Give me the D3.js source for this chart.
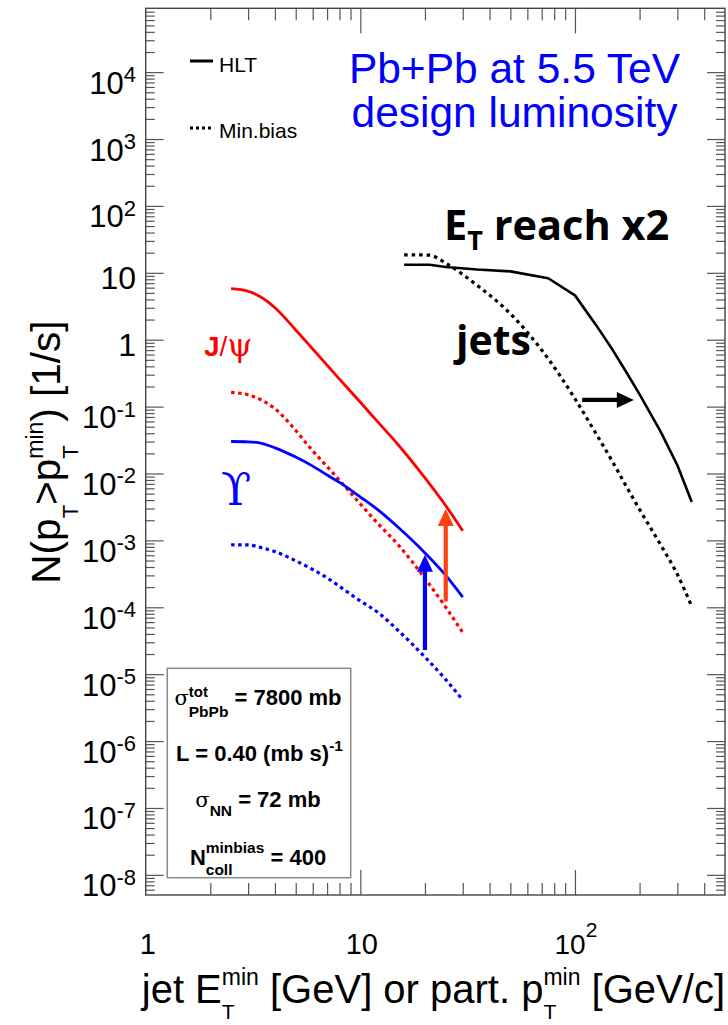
<!DOCTYPE html>
<html><head><meta charset="utf-8">
<script src="https://cdn.jsdelivr.net/npm/d3@7"></script>
<style>
html,body{margin:0;padding:0;background:#fff;}
svg text{white-space:pre;}
</style></head>
<body>
<svg id="chart" width="728" height="1025"></svg>
<script>
// ---------------- data ----------------
const onium_pt = [2.5, 3, 3.5, 4, 5, 6, 7, 8, 10, 12, 15, 20, 25, 30];
const jpsi_hlt = [5.8, 5.3, 4.2, 3.0, 1.40, 0.726, 0.417, 0.258, 0.116, 0.060, 0.0269, 8.6e-3, 3.3e-3, 1.39e-3];
const jpsi_mb  = [0.163, 0.150, 0.123, 0.093, 0.044, 0.0218, 0.0127, 7.9e-3, 3.5e-3, 1.82e-3, 8.6e-4, 2.7e-4, 1.0e-4, 4.2e-5];
const ups_hlt  = [0.0301, 0.0298, 0.0280, 0.0242, 0.0176, 0.0129, 9.5e-3, 7.35e-3, 4.45e-3, 2.9e-3, 1.57e-3, 6.5e-4, 3.0e-4, 1.42e-4];
const ups_mb   = [8.6e-4, 8.55e-4, 7.7e-4, 6.8e-4, 4.95e-4, 3.67e-4, 2.76e-4, 2.05e-4, 1.24e-4, 8.5e-5, 4.5e-5, 1.8e-5, 8.3e-6, 4.1e-6];
const jet_et   = [16, 21, 25, 35, 50, 75, 100, 125, 150, 175, 200, 250, 300, 350];
const jet_hlt  = [13.2, 13.2, 12.2, 11.2, 10.5, 8.3, 4.6, 1.68, 0.70, 0.313, 0.152, 0.043, 0.0133, 3.75e-3];
const jet_mb   = [18.6, 18.4, 13.9, 6.5, 2.45, 0.52, 0.131, 0.040, 0.0148, 6.1e-3, 2.9e-3, 8.7e-4, 3.1e-4, 1.03e-4];

const yTickExps = [4, 3, 2, 1, 0, -1, -2, -3, -4, -5, -6, -7, -8];
const xTickVals = [1, 10, 100];

// annotation arrows (data units): [x1, y1, x2, y2]
const arrowBlue  = [20, 2.3e-5, 20, 6.1e-4];
const arrowRed   = [25, 1.22e-4, 25, 2.94e-3];
const arrowBlack = [108, 0.126, 188, 0.126];

// ---------------- layout ----------------
const X0 = 145.7, X1 = 725, Y0 = 8.3, Y1 = 895;
const svg = d3.select('#chart');
const x = d3.scaleLog().domain([1, 500]).range([X0, X1]);
const y = d3.scaleLog().domain([5e-9, 9e4]).range([Y1, Y0]);
const SANS = '"Liberation Sans", Arial, Helvetica, sans-serif';
const CAL = '"Open Sans", Lato, sans-serif';
const SYM = '"DejaVu Serif", "Liberation Serif", serif';

// rich text helper: parts {t, size, off, weight, family, stack, fill}
function rich(parent, px, py, anchor, parts, base) {
  const text = parent.append('text').attr('x', px).attr('y', py)
    .attr('text-anchor', anchor)
    .attr('font-family', base.family || SANS)
    .attr('font-weight', base.weight || 'normal')
    .attr('fill', base.fill || '#000');
  let cur = 0, prevW = 0, pending = 0;
  parts.forEach(p => {
    const ts = text.append('tspan').text(p.t).attr('font-size', p.size || base.size);
    if (p.family) ts.attr('font-family', p.family);
    if (p.weight) ts.attr('font-weight', p.weight);
    if (p.fill) ts.attr('fill', p.fill);
    const off = p.off || 0;
    if (off - cur !== 0) ts.attr('dy', off - cur);
    cur = off;
    if (p.stack) {
      ts.attr('dx', -prevW);
      const w = ts.node().getComputedTextLength();
      pending = Math.max(prevW - w, 0);
      prevW = w;
    } else {
      if (pending) { ts.attr('dx', pending); pending = 0; }
      prevW = ts.node().getComputedTextLength();
    }
  });
  return text;
}

// ---------------- axes ticks ----------------
const yMajor = yTickExps.map(e => Math.pow(10, e));
const yMinor = [];
for (let e = -9; e <= 4; e++) for (let k = 2; k <= 9; k++) {
  const v = k * Math.pow(10, e);
  if (v > 5e-9 && v < 9e4) yMinor.push(v);
}
const xMinor = [];
for (let e = 0; e <= 2; e++) for (let k = 2; k <= 9; k++) {
  const v = k * Math.pow(10, e);
  if (v < 500) xMinor.push(v);
}
const xMajor = [10, 100];

function styleAxis(g) {
  g.select('.domain').remove();
  g.selectAll('.tick line').attr('stroke', '#555').attr('stroke-width', 1.2);
  g.selectAll('.tick text').remove();
}
svg.append('g').attr('transform', `translate(${X0},0)`).call(d3.axisRight(y).tickValues(yMajor).tickSize(18).tickFormat('')).call(styleAxis);
svg.append('g').attr('transform', `translate(${X0},0)`).call(d3.axisRight(y).tickValues(yMinor).tickSize(9).tickFormat('')).call(styleAxis);
svg.append('g').attr('transform', `translate(${X1},0)`).call(d3.axisLeft(y).tickValues(yMajor).tickSize(18).tickFormat('')).call(styleAxis);
svg.append('g').attr('transform', `translate(${X1},0)`).call(d3.axisLeft(y).tickValues(yMinor).tickSize(9).tickFormat('')).call(styleAxis);
svg.append('g').attr('transform', `translate(0,${Y1})`).call(d3.axisTop(x).tickValues(xMajor).tickSize(25).tickFormat('')).call(styleAxis);
svg.append('g').attr('transform', `translate(0,${Y1})`).call(d3.axisTop(x).tickValues(xMinor).tickSize(12).tickFormat('')).call(styleAxis);
svg.append('g').attr('transform', `translate(0,${Y0})`).call(d3.axisBottom(x).tickValues(xMajor).tickSize(25).tickFormat('')).call(styleAxis);
svg.append('g').attr('transform', `translate(0,${Y0})`).call(d3.axisBottom(x).tickValues(xMinor).tickSize(12).tickFormat('')).call(styleAxis);

svg.append('rect').attr('x', X0).attr('y', Y0).attr('width', X1 - X0).attr('height', Y1 - Y0)
  .attr('fill', 'none').attr('stroke', '#444').attr('stroke-width', 1.4);

// y tick labels
yTickExps.forEach(e => {
  const ty = y(Math.pow(10, e));
  if (e === 1 || e === 0) {
    rich(svg, 136, ty + 16, 'end', [{t: e === 1 ? '10' : '1'}], {size: 32});
  } else {
    rich(svg, 136, ty + 21.5, 'end', [{t: '10'}, {t: String(e), size: 22, off: -11.5}], {size: 31});
  }
});
// x tick labels
xTickVals.forEach(v => {
  const tx = x(v);
  if (v === 1) rich(svg, tx + 2, 954, 'middle', [{t: '1'}], {size: 29});
  else if (v === 10) rich(svg, tx + 1.5, 954, 'middle', [{t: '10'}], {size: 29});
  else rich(svg, tx + 1, 954, 'middle', [{t: '10'}, {t: '2', size: 21, off: -17}], {size: 28});
});

// axis titles
rich(svg, 725, 1003, 'end', [
  {t: 'jet E'}, {t: 'T', size: 21, off: 16}, {t: 'min', size: 23, off: -18, stack: true},
  {t: ' [GeV] or part. p'}, {t: 'T', size: 21, off: 16}, {t: 'min', size: 23, off: -18, stack: true},
  {t: ' [GeV/c]'}
], {size: 40});

const yt = svg.append('g').attr('transform', 'translate(60,452) rotate(-90)');
rich(yt, 0, 0, 'middle', [
  {t: 'N(p'}, {t: 'T', size: 22, off: 18}, {t: '>p', off: 0}, {t: 'T', size: 22, off: 18},
  {t: 'min', size: 23, off: -17, stack: true}, {t: ') [1/s]', off: 0}
], {size: 40.5});

// ---------------- curves ----------------
const smooth = d3.line().x(d => x(d[0])).y(d => y(d[1])).curve(d3.curveMonotoneX);
const straight = d3.line().x(d => x(d[0])).y(d => y(d[1]));
const zipd = (xs, ys) => xs.map((v, i) => [v, ys[i]]);

const series = [
  {d: zipd(onium_pt, jpsi_hlt), c: '#ff0000', dash: null, gen: smooth, w: 2.8},
  {d: zipd(onium_pt, jpsi_mb), c: '#ff0000', dash: '3.5,3.5', gen: smooth, w: 3.2},
  {d: zipd(onium_pt, ups_hlt), c: '#0000ff', dash: null, gen: smooth, w: 2.8},
  {d: zipd(onium_pt, ups_mb), c: '#0000ff', dash: '3.5,3.5', gen: smooth, w: 3.2},
  {d: zipd(jet_et, jet_hlt), c: '#000', dash: null, gen: straight, w: 2.6},
  {d: zipd(jet_et, jet_mb), c: '#000', dash: '3.5,4', gen: smooth, w: 3.2},
];
series.forEach(s => {
  svg.append('path').attr('d', s.gen(s.d)).attr('fill', 'none').attr('stroke', s.c)
    .attr('stroke-width', s.w).attr('stroke-dasharray', s.dash).attr('stroke-linejoin', 'round');
});

// ---------------- arrows ----------------
function arrow(a, color) {
  const x1 = x(a[0]), y1 = y(a[1]), x2 = x(a[2]), y2 = y(a[3]);
  const L = Math.hypot(x2 - x1, y2 - y1), ux = (x2 - x1) / L, uy = (y2 - y1) / L;
  const hl = 17, hw = 8;
  const bx = x2 - ux * hl, by = y2 - uy * hl;
  svg.append('line').attr('x1', x1).attr('y1', y1).attr('x2', bx + ux).attr('y2', by + uy)
    .attr('stroke', color).attr('stroke-width', 4.2);
  svg.append('path').attr('d', `M${x2},${y2}L${bx - uy * hw},${by + ux * hw}L${bx + uy * hw},${by - ux * hw}Z`)
    .attr('fill', color);
}
arrow(arrowBlue, '#0000ff');
arrow(arrowRed, '#ff4010');
arrow(arrowBlack, '#000');

// ---------------- legend ----------------
svg.append('line').attr('x1', 190).attr('x2', 213).attr('y1', 61).attr('y2', 61).attr('stroke', '#000').attr('stroke-width', 3);
rich(svg, 219, 71.5, 'start', [{t: 'HLT'}], {size: 21});
svg.append('line').attr('x1', 190).attr('x2', 214).attr('y1', 128).attr('y2', 128).attr('stroke', '#000').attr('stroke-width', 3).attr('stroke-dasharray', '3,3');
rich(svg, 219, 138.3, 'start', [{t: 'Min.bias'}], {size: 21});

// ---------------- labels ----------------
rich(svg, 514.5, 83.3, 'middle', [{t: 'Pb+Pb at 5.5 TeV'}], {size: 42.5, fill: '#0000ff'});
rich(svg, 514.5, 126.7, 'middle', [{t: 'design luminosity'}], {size: 42.5, fill: '#0000ff'});

rich(svg, 444, 240, 'start', [{t: 'E'}, {t: 'T', size: 27, off: 10}, {t: ' reach x2', off: 0}], {size: 41.5, weight: 'bold', family: CAL});
rich(svg, 456, 355, 'start', [{t: 'jets'}], {size: 41, weight: 'bold', family: CAL});

rich(svg, 204, 356, 'start', [{t: 'J', weight: 'bold'}, {t: '/'}, {t: 'ψ', family: SYM, size: 32}], {size: 28, fill: '#ff0000'});
rich(svg, 221, 505, 'start', [{t: 'ϒ'}], {size: 44, fill: '#0000ff', family: SYM});

// ---------------- parameter box ----------------
svg.append('rect').attr('x', 167.3).attr('y', 668.3).attr('width', 183.4).attr('height', 209.4)
  .attr('fill', '#fff').attr('stroke', '#888').attr('stroke-width', 1.5);
const bb = {size: 22, weight: 'bold'};
rich(svg, 258, 705, 'middle', [
  {t: 'σ', family: SYM, weight: 'normal', size: 21}, {t: 'PbPb', size: 15.5, off: 12}, {t: 'tot', size: 15, off: -8, stack: true},
  {t: ' = 7800 mb', off: 0}], bb);
rich(svg, 259.5, 761, 'middle', [{t: 'L = 0.40 (mb s)'}, {t: '-1', size: 15.5, off: -10}], bb);
rich(svg, 258, 807.3, 'middle', [
  {t: 'σ', family: SYM, weight: 'normal', size: 21}, {t: 'NN', size: 15.5, off: 9}, {t: ' = 72 mb', off: 0}], bb);
rich(svg, 258, 865, 'middle', [
  {t: 'N'}, {t: 'coll', size: 15.5, off: 10}, {t: 'minbias', size: 15.5, off: -12, stack: true}, {t: ' = 400', off: 0}], bb);
</script>
</body></html>
